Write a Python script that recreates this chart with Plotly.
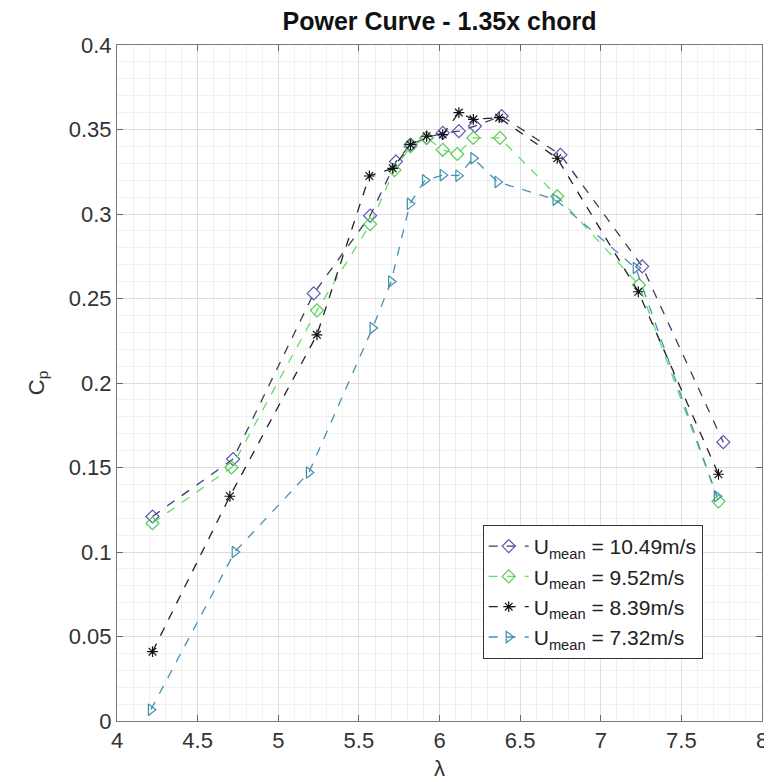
import plotly.graph_objects as go

# Data
names = ["U<sub>mean</sub> = 10.49m/s", "U<sub>mean</sub> = 9.52m/s",
         "U<sub>mean</sub> = 8.39m/s", "U<sub>mean</sub> = 7.32m/s"]

lam_1049 = [4.22, 4.72, 5.22, 5.57, 5.73, 5.82, 5.92, 6.02, 6.12, 6.22, 6.385, 6.75, 7.257, 7.76]
cp_1049 = [0.121, 0.155, 0.253, 0.299, 0.331, 0.341, 0.345, 0.348, 0.349, 0.352, 0.358, 0.335, 0.269, 0.165]

lam_952 = [4.22, 4.71, 5.24, 5.57, 5.72, 5.82, 5.92, 6.02, 6.11, 6.21, 6.375, 6.73, 7.237, 7.73]
cp_952 = [0.117, 0.150, 0.243, 0.294, 0.326, 0.340, 0.345, 0.338, 0.3355, 0.345, 0.345, 0.3105, 0.258, 0.130]

lam_839 = [4.22, 4.70, 5.24, 5.565, 5.71, 5.82, 5.92, 6.02, 6.12, 6.21, 6.37, 6.73, 7.233, 7.73]
cp_839 = [0.041, 0.133, 0.2285, 0.3225, 0.327, 0.341, 0.346, 0.347, 0.360, 0.356, 0.357, 0.333, 0.254, 0.146]

lam_732 = [4.21, 4.73, 5.19, 5.585, 5.70, 5.816, 5.91, 6.02, 6.117, 6.21, 6.36, 6.72, 7.217, 7.72]
cp_732 = [0.0067, 0.100, 0.147, 0.2325, 0.260, 0.306, 0.320, 0.323, 0.3227, 0.333, 0.319, 0.3085, 0.268, 0.133]

x_ticks = [4, 4.5, 5, 5.5, 6, 6.5, 7, 7.5, 8]
y_ticks = [0, 0.05, 0.1, 0.15, 0.2, 0.25, 0.3, 0.35, 0.4]

styles = [
    dict(line="#3c3c66", marker="#5a55b5", symbol="diamond-open", size=10),
    dict(line="#66dd66", marker="#55cc55", symbol="diamond-open", size=10),
    dict(line="#222222", marker="#111111", symbol="asterisk-open", size=9),
    dict(line="#4a8fb8", marker="#3f8fb0", symbol="triangle-right-open", size=10),
]

series = [(lam_1049, cp_1049), (lam_952, cp_952), (lam_839, cp_839), (lam_732, cp_732)]

fig = go.Figure()
for (xs, ys), nm, st in zip(series, names, styles):
    fig.add_trace(go.Scatter(
        x=xs, y=ys, name=nm, mode="lines+markers",
        line=dict(color=st["line"], width=1.3, dash="dash"),
        marker=dict(symbol=st["symbol"], size=st["size"], color=st["marker"],
                    line=dict(color=st["marker"], width=1.2)),
    ))

font_family = "Liberation Sans, Arial, sans-serif"

axis_common = dict(
    showline=True, linecolor="#7a7a7a", linewidth=1, mirror="allticks",
    ticks="inside", ticklen=6, tickcolor="#666666",
    showgrid=True, gridcolor="#dedede", gridwidth=1,
    zeroline=False, ticklabeloverflow="allow",
    tickfont=dict(size=22, color="#333333", family=font_family),
)

fig.update_xaxes(
    range=[4, 8], tickvals=x_ticks, ticktext=[f"{v:g}" for v in x_ticks],
    minor=dict(dtick=0.1, showgrid=True, gridcolor="#f0f0f0", ticks=""),
    title=dict(text="λ", font=dict(size=22, color="#333333", family=font_family), standoff=8),
    **axis_common,
)
fig.update_yaxes(
    range=[0, 0.4], tickvals=y_ticks, ticktext=[f"{v:g}" for v in y_ticks],
    minor=dict(dtick=0.01, showgrid=True, gridcolor="#f0f0f0", ticks=""),
    title=dict(text="C<sub>p</sub>", font=dict(size=22, color="#333333", family=font_family), standoff=18),
    **axis_common,
)

fig.update_layout(
    width=772, height=782,
    margin=dict(l=109, r=13, t=37, b=69),
    paper_bgcolor="white", plot_bgcolor="white",
    title=dict(text="<b>Power Curve - 1.35x chord</b>", x=0.5, xref="paper", xanchor="center",
               y=0.983, yanchor="middle",
               font=dict(size=25, color="#111111", family=font_family)),
    legend=dict(
        x=0.567, y=0.29, xanchor="left", yanchor="top",
        bgcolor="white", bordercolor="#333333", borderwidth=1,
        font=dict(size=21, color="#222222", family=font_family),
        tracegroupgap=0, itemwidth=40,
    ),
    showlegend=True,
)

fig.write_html("out.html")
